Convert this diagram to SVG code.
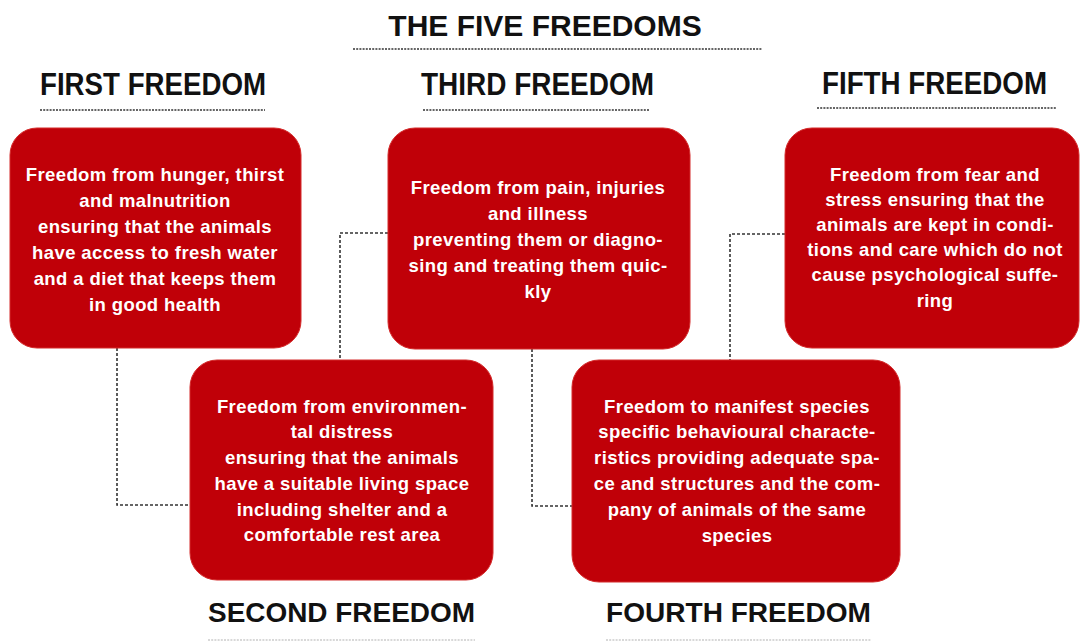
<svg xmlns="http://www.w3.org/2000/svg" width="1081" height="643" viewBox="0 0 1081 643">
<style>
.bg{fill:#ffffff}
.box{fill:#C00008;stroke:#D42A2A;stroke-width:1}
.bt{font-family:"Liberation Sans",Arial,sans-serif;font-weight:bold;font-size:18.5px;letter-spacing:0.4px;fill:#ffffff;text-anchor:middle}
.hd{font-family:"Liberation Sans",Arial,sans-serif;font-weight:bold;font-size:32px;fill:#111111}
.ti{font-family:"Liberation Sans",Arial,sans-serif;font-weight:bold;font-size:30px;fill:#111111;text-anchor:middle}
.ul{stroke:#333333;stroke-width:1.6;stroke-dasharray:2 1.2;fill:none}
.ulf{stroke:#cccccc;stroke-width:1.5;stroke-dasharray:2 1.2;fill:none}
.cn{stroke:#333333;stroke-width:1.6;stroke-dasharray:3 2;fill:none}
</style>
<rect class="bg" x="0" y="0" width="1081" height="643"/>
<g id="title">
<text class="ti" x="545" y="36">THE FIVE FREEDOMS</text>
<line class="ul" x1="353" y1="49" x2="762" y2="49"/>
</g>
<g id="connectors">
<polyline class="cn" points="117,348 117,505 190,505"/>
<polyline class="cn" points="388,233 340,233 340,360"/>
<polyline class="cn" points="532,349 532,506 572,506"/>
<polyline class="cn" points="785,234 730,234 730,360"/>
</g>
<g id="first-freedom">
<text class="hd" x="40" y="95" textLength="226" lengthAdjust="spacingAndGlyphs">FIRST FREEDOM</text>
<line class="ul" x1="40" y1="110" x2="265" y2="110"/>
<rect class="box" x="10" y="128" width="291" height="220" rx="27"/>
<text class="bt" x="155" y="181">Freedom from hunger, thirst</text>
<text class="bt" x="155" y="207">and malnutrition</text>
<text class="bt" x="155" y="233">ensuring that the animals</text>
<text class="bt" x="155" y="259">have access to fresh water</text>
<text class="bt" x="155" y="285">and a diet that keeps them</text>
<text class="bt" x="155" y="311">in good health</text>
</g>
<g id="third-freedom">
<text class="hd" x="421" y="95" textLength="233" lengthAdjust="spacingAndGlyphs">THIRD FREEDOM</text>
<line class="ul" x1="423" y1="110" x2="650" y2="110"/>
<rect class="box" x="388" y="128" width="302" height="221" rx="27"/>
<text class="bt" x="538" y="194">Freedom from pain, injuries</text>
<text class="bt" x="538" y="220">and illness</text>
<text class="bt" x="538" y="246">preventing them or diagno-</text>
<text class="bt" x="538" y="272">sing and treating them quic-</text>
<text class="bt" x="538" y="298">kly</text>
</g>
<g id="fifth-freedom">
<text class="hd" x="822" y="94" textLength="225" lengthAdjust="spacingAndGlyphs">FIFTH FREEDOM</text>
<line class="ul" x1="817" y1="108" x2="1057" y2="108"/>
<rect class="box" x="785" y="128" width="294" height="220" rx="27"/>
<text class="bt" x="935" y="181">Freedom from fear and</text>
<text class="bt" x="935" y="206">stress ensuring that the</text>
<text class="bt" x="935" y="231">animals are kept in condi-</text>
<text class="bt" x="935" y="256">tions and care which do not</text>
<text class="bt" x="935" y="281">cause psychological suffe-</text>
<text class="bt" x="935" y="307">ring</text>
</g>
<g id="second-freedom">
<rect class="box" x="190" y="360" width="303" height="220" rx="27"/>
<text class="bt" x="342" y="413">Freedom from environmen-</text>
<text class="bt" x="342" y="438">tal distress</text>
<text class="bt" x="342" y="464">ensuring that the animals</text>
<text class="bt" x="342" y="490">have a suitable living space</text>
<text class="bt" x="342" y="516">including shelter and a</text>
<text class="bt" x="342" y="541">comfortable rest area</text>
<text class="hd" x="208" y="622" textLength="267" lengthAdjust="spacingAndGlyphs" style="font-size:27px">SECOND FREEDOM</text>
<line class="ulf" x1="208" y1="640" x2="475" y2="640"/>
</g>
<g id="fourth-freedom">
<rect class="box" x="572" y="360" width="328" height="222" rx="27"/>
<text class="bt" x="737" y="413">Freedom to manifest species</text>
<text class="bt" x="737" y="438">specific behavioural characte-</text>
<text class="bt" x="737" y="464">ristics providing adequate spa-</text>
<text class="bt" x="737" y="490">ce and structures and the com-</text>
<text class="bt" x="737" y="516">pany of animals of the same</text>
<text class="bt" x="737" y="542">species</text>
<text class="hd" x="606" y="622" textLength="265" lengthAdjust="spacingAndGlyphs" style="font-size:27px">FOURTH FREEDOM</text>
<line class="ulf" x1="606" y1="640" x2="871" y2="640"/>
</g>
</svg>
